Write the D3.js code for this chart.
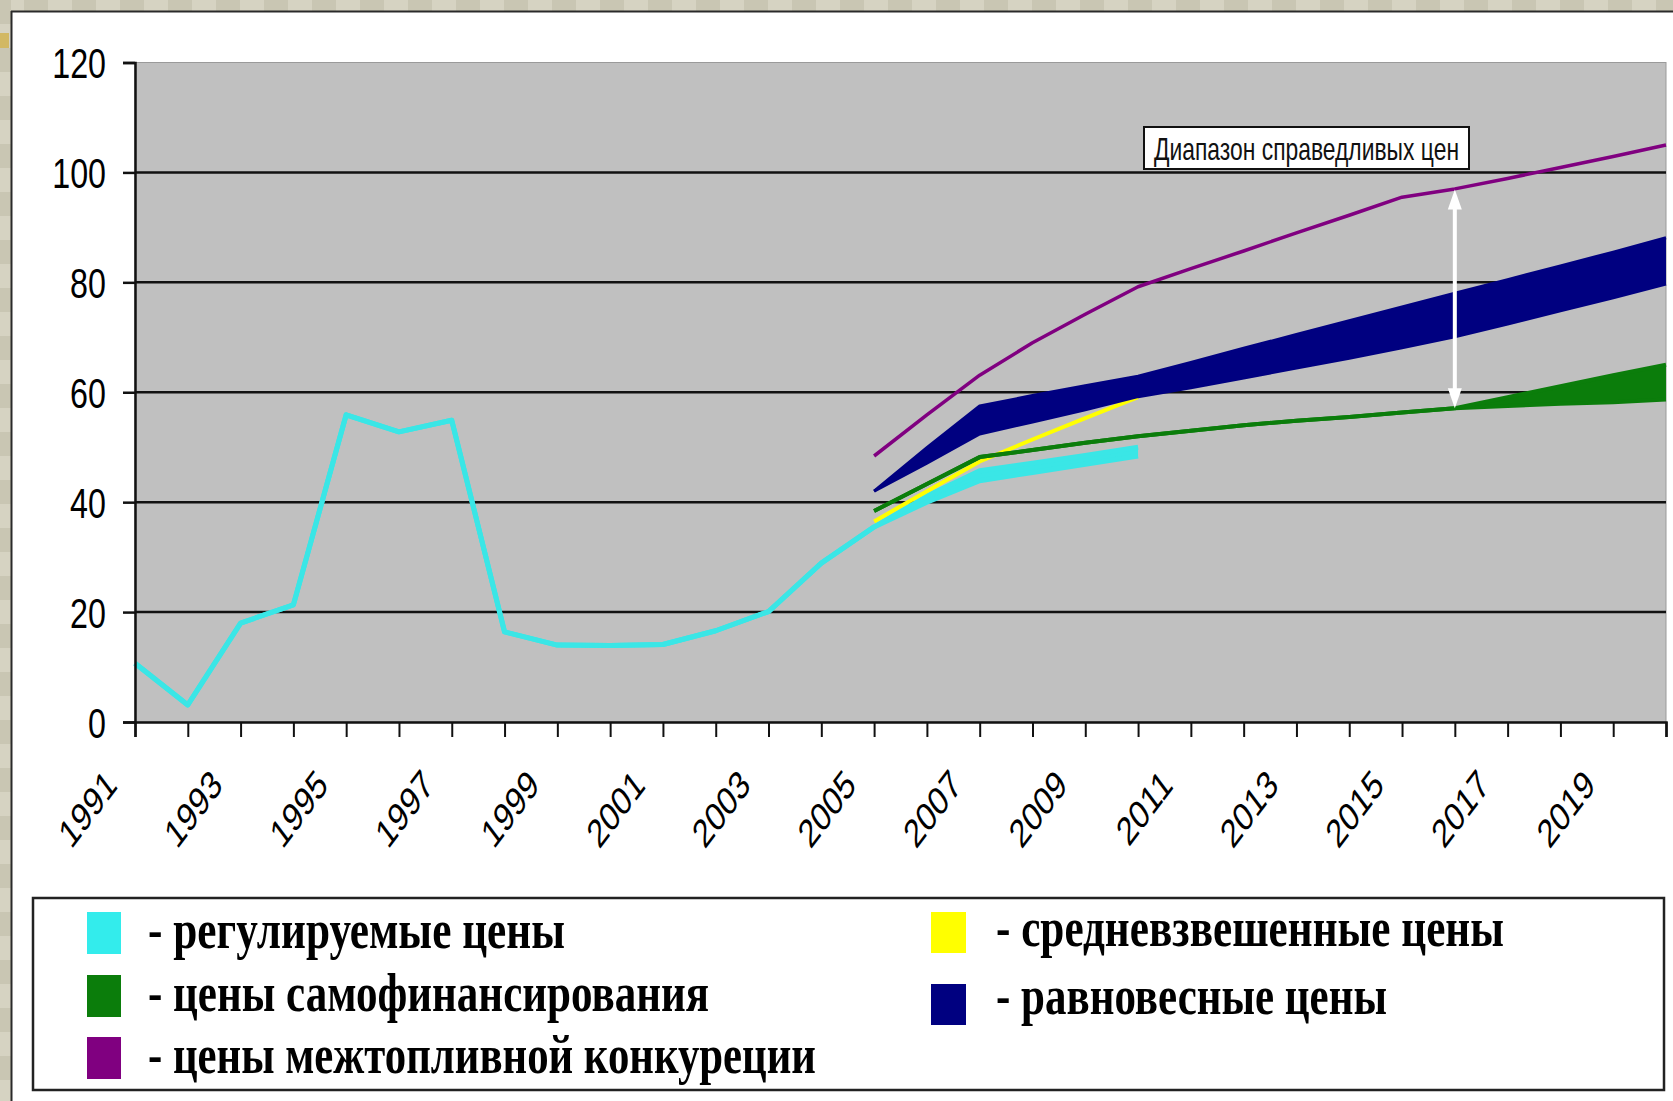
<!DOCTYPE html>
<html>
<head>
<meta charset="utf-8">
<script src="https://cdn.jsdelivr.net/npm/d3@7"></script>
<style>
html,body{margin:0;padding:0;background:#d3d0be;overflow:hidden;}
svg{display:block;}
</style>
</head>
<body>
<svg id="chart" width="1673" height="1101"></svg>
<script>
// ---------------- DATA ----------------
const categories = [1991,1992,1993,1994,1995,1996,1997,1998,1999,2000,2001,2002,2003,2004,2005,
                    2006,2007,2008,2009,2010,2011,2012,2013,2014,2015,2016,2017,2018,2019,2020];
const xTickLabels = ["1991","1993","1995","1997","1999","2001","2003","2005","2007","2009","2011","2013","2015","2017","2019"];
const yTickValues = [0,20,40,60,80,100,120];

// регулируемые цены (line, widening into a narrow band 2006-2010)
const regulatedYears = [1991,1992,1993,1994,1995,1996,1997,1998,1999,2000,2001,2002,2003,2004,2005,2006,2007,2008,2009,2010];
const regulatedLow   = [10.7,3.1,18.0,21.3,55.9,52.8,54.9,16.4,14.0,13.9,14.1,16.6,20.1,28.9,35.5,40.0,43.9,45.4,46.9,48.4];
const regulatedHigh  = [10.7,3.1,18.0,21.3,55.9,52.8,54.9,16.4,14.0,13.9,14.1,16.6,20.1,28.9,35.5,41.1,45.7,47.1,48.5,50.0];

// цены самофинансирования (line, band from 2016)
const selfFinYears = [2005,2006,2007,2008,2009,2010,2011,2012,2013,2014,2015,2016,2017,2018,2019,2020];
const selfFinLow   = [38.4,43.3,48.2,49.5,50.8,52.0,53.0,54.0,54.8,55.5,56.3,57.1,57.5,57.9,58.2,58.7];
const selfFinHigh  = [38.4,43.3,48.2,49.5,50.8,52.0,53.0,54.0,54.8,55.5,56.3,57.1,59.1,61.1,63.1,65.0];

// равновесные цены (band)
const equilYears = [2005,2006,2007,2008,2009,2010,2011,2012,2013,2014,2015,2016,2017,2018,2019,2020];
const equilLow   = [42.0,47.1,52.4,54.6,56.8,59.2,60.8,62.6,64.4,66.2,68.1,70.1,72.4,74.8,77.2,79.7];
const equilHigh  = [42.0,49.9,57.5,59.4,61.2,62.9,65.4,68.0,70.5,73.0,75.5,78.0,80.5,83.0,85.5,88.1];

// цены межтопливной конкуреции
const interfuelYears  = [2005,2006,2007,2008,2009,2010,2011,2012,2013,2014,2015,2016,2017,2018,2019,2020];
const interfuelValues = [48.4,55.9,63.1,69.0,74.2,79.2,82.5,85.7,89.0,92.2,95.5,97.0,98.9,100.9,102.9,105.0];

// средневзвешенные цены
const weightedYears  = [2005,2006,2007,2008,2009,2010];
const weightedValues = [36.5,42.0,47.4,51.4,55.3,59.1];

// диапазон справедливых цен (arrow)
const rangeArrowYear = 2016;
const rangeArrowFrom = 57.1;
const rangeArrowTo   = 96.9;
const rangeLabel = "Диапазон справедливых цен";

const legendLeft  = [
  {label:"- регулируемые цены", color:"#33ecec"},
  {label:"- цены самофинансирования", color:"#0b7d0b"},
  {label:"- цены межтопливной конкуреции", color:"#800080"}
];
const legendRight = [
  {label:"- средневзвешенные цены", color:"#ffff00"},
  {label:"- равновесные цены", color:"#000080"}
];

// ---------------- DRAW ----------------
const svg = d3.select("#chart");
const W = 1673, H = 1101;

// textured beige frame (top + left strips)
const tileA = "#d6d3c2", tileB = "#c9c6b3";
svg.append("rect").attr("x",0).attr("y",0).attr("width",W).attr("height",H).attr("fill","#d3d0be");
const topTiles = d3.range(0, W, 24);
svg.selectAll("rect.tt").data(topTiles).enter().append("rect")
  .attr("x", d=>d).attr("y",0).attr("width",24).attr("height",11)
  .attr("fill",(d,i)=> i%2 ? tileB : tileA);
const leftTiles = d3.range(0, H, 24);
svg.selectAll("rect.lt").data(leftTiles).enter().append("rect")
  .attr("x",0).attr("y",d=>d).attr("width",11).attr("height",24)
  .attr("fill",(d,i)=> i%2 ? tileA : tileB);
svg.append("rect").attr("x",0).attr("y",33).attr("width",9).attr("height",15).attr("fill","#d2b863");

// white panel
svg.append("rect").attr("x",11).attr("y",11).attr("width",W-11).attr("height",H-11).attr("fill","#fff");
svg.append("line").attr("x1",11.5).attr("y1",11).attr("x2",11.5).attr("y2",H).attr("stroke","#2a2a2a").attr("stroke-width",2);
svg.append("line").attr("x1",11).attr("y1",11.5).attr("x2",W).attr("y2",11.5).attr("stroke","#2a2a2a").attr("stroke-width",2);

// plot area
const plot = {left:135, right:1666, top:62.5, bottom:722};
const x = d3.scalePoint().domain(categories).range([plot.left, plot.right]);
const y = d3.scaleLinear().domain([0,120]).range([plot.bottom, plot.top]);

svg.append("rect").attr("x",plot.left).attr("y",plot.top)
  .attr("width",plot.right-plot.left).attr("height",plot.bottom-plot.top)
  .attr("fill","#c0c0c0").attr("stroke","#9a9a9a").attr("stroke-width",1);

// gridlines
svg.append("g").selectAll("line").data(yTickValues.filter(v=>v>0 && v<120)).enter().append("line")
  .attr("x1",plot.left).attr("x2",plot.right)
  .attr("y1",d=>y(d)).attr("y2",d=>y(d))
  .attr("stroke","#111").attr("stroke-width",2.5);

// series helpers
function band(years, lo, hi){ return years.map((yr,i)=>({yr, lo:lo[i], hi:hi[i]})); }
const areaGen = d3.area().x(d=>x(d.yr)).y0(d=>y(d.lo)).y1(d=>y(d.hi));
const loLine = d3.line().x(d=>x(d.yr)).y(d=>y(d.lo));
const hiLine = d3.line().x(d=>x(d.yr)).y(d=>y(d.hi));
function drawBand(data, color, sw){
  const g = svg.append("g");
  g.append("path").attr("d", areaGen(data)).attr("fill", color).attr("stroke","none");
  [loLine, hiLine].forEach(gen => g.append("path").attr("d", gen(data))
     .attr("fill","none").attr("stroke",color).attr("stroke-width",sw)
     .attr("stroke-linejoin","round").attr("stroke-linecap","butt"));
}
function drawLine(years, vals, color, sw){
  const data = years.map((yr,i)=>({yr, v:vals[i]}));
  svg.append("path").attr("d", d3.line().x(d=>x(d.yr)).y(d=>y(d.v))(data))
    .attr("fill","none").attr("stroke",color).attr("stroke-width",sw)
    .attr("stroke-linejoin","round");
}

drawBand(band(regulatedYears, regulatedLow, regulatedHigh), "#3ae6e6", 5);
drawLine(weightedYears, weightedValues, "#ffff00", 4);
drawBand(band(selfFinYears, selfFinLow, selfFinHigh), "#0b7d0b", 4);
drawBand(band(equilYears, equilLow, equilHigh), "#000080", 3);
drawLine(interfuelYears, interfuelValues, "#800080", 3.5);

// arrow (white, double headed)
const ax = x(rangeArrowYear);
const ay1 = y(rangeArrowTo), ay2 = y(rangeArrowFrom);
svg.append("line").attr("x1",ax).attr("x2",ax).attr("y1",ay1+14).attr("y2",ay2-14)
  .attr("stroke","#fff").attr("stroke-width",4);
svg.append("path").attr("d",`M${ax},${ay1} L${ax-7},${ay1+20} L${ax+7},${ay1+20} Z`).attr("fill","#fff");
svg.append("path").attr("d",`M${ax},${ay2} L${ax-7},${ay2-20} L${ax+7},${ay2-20} Z`).attr("fill","#fff");

// annotation box
svg.append("rect").attr("x",1144).attr("y",127).attr("width",325).attr("height",42)
  .attr("fill","#fff").attr("stroke","#111").attr("stroke-width",2);
svg.append("text").attr("x",1154).attr("y",160).text(rangeLabel)
  .attr("font-family","'Liberation Sans', Arial, sans-serif").attr("font-size",32)
  .attr("textLength",305).attr("lengthAdjust","spacingAndGlyphs").attr("fill","#111");

// Y axis
const yAxis = svg.append("g").attr("transform",`translate(${plot.left},0)`)
  .call(d3.axisLeft(y).tickValues(yTickValues).tickSize(12).tickPadding(0));
yAxis.select(".domain").attr("stroke","#111").attr("stroke-width",2.5);
yAxis.selectAll(".tick line").attr("stroke","#111").attr("stroke-width",2.5);
yAxis.selectAll(".tick text")
  .attr("x",null).attr("dy",null)
  .attr("transform","translate(-29,15) scale(0.75,1)")
  .attr("text-anchor","end")
  .attr("font-family","'Liberation Sans', Arial, sans-serif").attr("font-size",43).attr("fill","#000");

// X axis
const xAxis = svg.append("g").attr("transform",`translate(0,${plot.bottom})`)
  .call(d3.axisBottom(x).tickSize(15).tickFormat(d => xTickLabels.includes(String(d)) ? String(d) : ""));
xAxis.select(".domain").attr("stroke","#111").attr("stroke-width",2.5);
xAxis.selectAll(".tick line").attr("stroke","#111").attr("stroke-width",2);
xAxis.selectAll(".tick text")
  .attr("y",null).attr("dy",null)
  .attr("transform","translate(-17,65) scale(0.75,1) rotate(-45)")
  .attr("text-anchor","end")
  .attr("font-family","'Liberation Sans', Arial, sans-serif").attr("font-size",40).attr("fill","#000");

// Legend
svg.append("rect").attr("x",33).attr("y",898).attr("width",1631).attr("height",192)
  .attr("fill","#fff").attr("stroke","#222").attr("stroke-width",2.5);
const legFont = "'Liberation Serif', 'Times New Roman', serif";
const leftWidths = [417, 561, 668];
const leftRows = [{sy:912, by:948},{sy:975, by:1011},{sy:1037, by:1073}];
legendLeft.forEach((d,i)=>{
  svg.append("rect").attr("x",87).attr("y",leftRows[i].sy).attr("width",34).attr("height",42).attr("fill",d.color);
  svg.append("text").attr("x",148).attr("y",leftRows[i].by).text(d.label)
    .attr("font-family",legFont).attr("font-weight","bold").attr("font-size",54)
    .attr("textLength",leftWidths[i]).attr("lengthAdjust","spacingAndGlyphs").attr("fill","#000");
});
const rightWidths = [508, 391];
const rightRows = [{sy:912, by:946},{sy:984, by:1014}];
legendRight.forEach((d,i)=>{
  svg.append("rect").attr("x",931).attr("y",rightRows[i].sy).attr("width",35).attr("height",41).attr("fill",d.color);
  svg.append("text").attr("x",996).attr("y",rightRows[i].by).text(d.label)
    .attr("font-family",legFont).attr("font-weight","bold").attr("font-size",54)
    .attr("textLength",rightWidths[i]).attr("lengthAdjust","spacingAndGlyphs").attr("fill","#000");
});
</script>
</body>
</html>
